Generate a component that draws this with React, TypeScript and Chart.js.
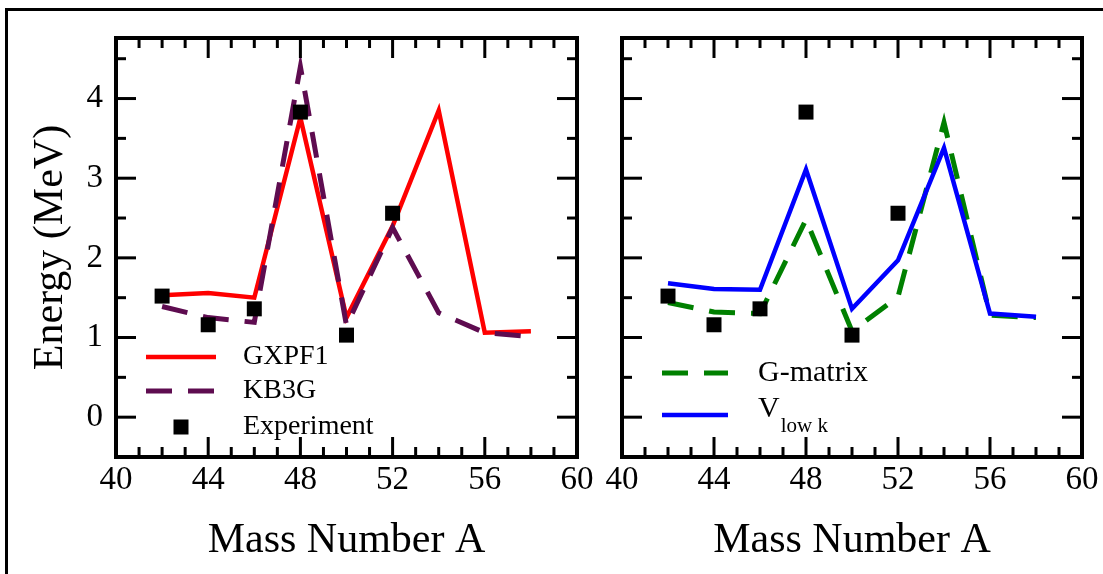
import React, { useEffect, useRef } from 'react';
import { Chart, registerables } from 'chart.js';

Chart.register(...registerables);

// ---------- data ----------
const massNumbers = [42, 44, 46, 48, 50, 52, 54, 56, 58];
const gxpf1 = [1.53, 1.56, 1.5, 3.76, 1.25, 2.4, 3.85, 1.06, 1.08];
const kb3g = [1.39, 1.25, 1.19, 4.4, 1.15, 2.38, 1.31, 1.06, 1.01];
const gMatrix = [1.44, 1.32, 1.3, 2.48, 1.08, 1.51, 3.7, 1.28, 1.25];
const vLowK = [1.68, 1.61, 1.6, 3.11, 1.36, 1.97, 3.38, 1.3, 1.26];
const expMassNumbers = [42, 44, 46, 48, 50, 52];
const experiment = [1.52, 1.16, 1.36, 3.83, 1.03, 2.56];

const xTickLabels = [40, 44, 48, 52, 56, 60];
const xMinorTicks = [41, 42, 43, 45, 46, 47, 49, 50, 51, 53, 54, 55, 57, 58, 59];
const yTickLabels = [0, 1, 2, 3, 4];
const yMinorTicks = [0.5, 1.5, 2.5, 3.5, 4.5];

const SERIF = '"Liberation Serif", "Times New Roman", Times, serif';

const pts = (xs: number[], ys: number[]) => xs.map((x, i) => ({ x, y: ys[i] }));

// ---------- plugins ----------
const axesFramePlugin = {
  id: 'axesFrame',
  afterDatasetsDraw(chart: any) {
    const { ctx, chartArea: a, scales } = chart;
    const xs = scales.x;
    const ys = scales.y;
    ctx.save();
    ctx.strokeStyle = '#000';
    ctx.lineCap = 'butt';
    ctx.lineWidth = 3;
    const seg = (x1: number, y1: number, x2: number, y2: number) => {
      ctx.beginPath();
      ctx.moveTo(x1, y1);
      ctx.lineTo(x2, y2);
      ctx.stroke();
    };
    const major = 20;
    const minor = 10;
    xTickLabels.forEach((v) => {
      const p = xs.getPixelForValue(v);
      seg(p, a.bottom, p, a.bottom - major);
      seg(p, a.top, p, a.top + major);
    });
    xMinorTicks.forEach((v) => {
      const p = xs.getPixelForValue(v);
      seg(p, a.bottom, p, a.bottom - minor);
      seg(p, a.top, p, a.top + minor);
    });
    yTickLabels.forEach((v) => {
      const p = ys.getPixelForValue(v);
      seg(a.left, p, a.left + major, p);
      seg(a.right, p, a.right - major, p);
    });
    yMinorTicks.forEach((v) => {
      const p = ys.getPixelForValue(v);
      seg(a.left, p, a.left + minor, p);
      seg(a.right, p, a.right - minor, p);
    });
    ctx.lineWidth = 4;
    ctx.lineJoin = 'miter';
    ctx.strokeRect(a.left, a.top, a.right - a.left, a.bottom - a.top);
    ctx.restore();
  },
};

const insetLegendPlugin = {
  id: 'insetLegend',
  afterDraw(chart: any, _args: any, opts: any) {
    if (!opts || !opts.items) return;
    const { ctx } = chart;
    const { items, lineX0, lineX1, textX, fontSize } = opts;
    items.forEach((item: any) => {
      const ds = chart.data.datasets[item.dataset];
      const y = item.y;
      ctx.save();
      if (ds.showLine === false) {
        const side = 15;
        ctx.fillStyle = ds.pointBackgroundColor;
        const cx = (lineX0 + lineX1) / 2;
        ctx.fillRect(cx - side / 2, y - side / 2, side, side);
      } else {
        ctx.strokeStyle = ds.borderColor;
        ctx.lineWidth = ds.borderWidth;
        ctx.setLineDash(ds.borderDash || []);
        ctx.beginPath();
        ctx.moveTo(lineX0, y);
        ctx.lineTo(lineX1, y);
        ctx.stroke();
      }
      ctx.setLineDash([]);
      ctx.fillStyle = '#000';
      ctx.textAlign = 'left';
      ctx.textBaseline = 'middle';
      ctx.font = `${fontSize}px ${SERIF}`;
      const ty = y + (item.textDy || 0);
      ctx.fillText(item.text, textX, ty);
      if (item.sub) {
        const w = ctx.measureText(item.text).width;
        ctx.font = `${item.subSize}px ${SERIF}`;
        ctx.textBaseline = 'alphabetic';
        ctx.fillText(item.sub, textX + w + 1, ty + item.subDy);
      }
      ctx.restore();
    });
  },
};

// ---------- shared scale builders ----------
const xScale = () => ({
  type: 'linear' as const,
  min: 40,
  max: 60,
  afterBuildTicks: (s: any) => {
    s.ticks = xTickLabels.map((v) => ({ value: v }));
  },
  afterFit: (s: any) => {
    s.height = 117;
  },
  grid: { display: false, drawTicks: false },
  border: { display: false },
  ticks: {
    color: '#000',
    padding: 4,
    maxRotation: 0,
    autoSkip: false,
    font: { family: SERIF, size: 33 },
  },
  title: {
    display: true,
    text: 'Mass Number A',
    color: '#000',
    font: { family: SERIF, size: 42 },
    padding: { top: 0, bottom: 8 },
  },
});

const lineDs = (label: string, ys: number[], color: string, width: number, dash: number[] | undefined, order: number) => ({
  type: 'line' as const,
  label,
  data: pts(massNumbers, ys),
  borderColor: color,
  backgroundColor: color,
  borderWidth: width,
  borderDash: dash,
  borderJoinStyle: 'miter' as const,
  borderCapStyle: 'butt' as const,
  pointRadius: 0,
  pointHoverRadius: 0,
  tension: 0,
  fill: false,
  order,
});

const expDs = () => ({
  type: 'line' as const,
  label: 'Experiment',
  data: pts(expMassNumbers, experiment),
  showLine: false,
  pointStyle: 'rect' as const,
  pointRadius: 10.6,
  pointHoverRadius: 10.6,
  pointBackgroundColor: '#000',
  pointBorderColor: '#000',
  pointBorderWidth: 0,
  borderColor: '#000',
  backgroundColor: '#000',
  order: 0,
});

const DASH = [26, 16];

function leftConfig(): any {
  return {
    type: 'line',
    data: {
      datasets: [
        expDs(),
        lineDs('GXPF1', gxpf1, '#ff0000', 4.5, undefined, 2),
        lineDs('KB3G', kb3g, '#5e0c50', 5, DASH, 1),
      ],
    },
    options: {
      responsive: false,
      animation: false,
      devicePixelRatio: 1,
      events: [],
      layout: { padding: { top: 38, right: 23, left: 0, bottom: 0 } },
      scales: {
        x: xScale(),
        y: {
          type: 'linear',
          min: -0.5,
          max: 4.76,
          afterBuildTicks: (s: any) => {
            s.ticks = yTickLabels.map((v) => ({ value: v }));
          },
          afterFit: (s: any) => {
            s.width = 116;
          },
          grid: { display: false, drawTicks: false },
          border: { display: false },
          ticks: {
            color: '#000',
            padding: 13,
            font: { family: SERIF, size: 33 },
          },
          title: {
            display: true,
            text: 'Energy (MeV)',
            color: '#000',
            font: { family: SERIF, size: 42 },
            padding: { top: 26, bottom: 0 },
          },
        },
      },
      plugins: {
        legend: { display: false },
        tooltip: { enabled: false },
        insetLegend: {
          lineX0: 146,
          lineX1: 216,
          textX: 243,
          fontSize: 28,
          items: [
            { dataset: 1, text: 'GXPF1', y: 357 },
            { dataset: 2, text: 'KB3G', y: 391 },
            { dataset: 0, text: 'Experiment', y: 427 },
          ],
        },
      },
    },
    plugins: [axesFramePlugin, insetLegendPlugin],
  };
}

function rightConfig(): any {
  return {
    type: 'line',
    data: {
      datasets: [
        expDs(),
        lineDs('G-matrix', gMatrix, '#008000', 5, DASH, 2),
        lineDs('Vlow k', vLowK, '#0000ff', 4.5, undefined, 1),
      ],
    },
    options: {
      responsive: false,
      animation: false,
      devicePixelRatio: 1,
      events: [],
      layout: { padding: { top: 38, right: 21, left: 22, bottom: 0 } },
      scales: {
        x: xScale(),
        y: {
          type: 'linear',
          display: false,
          min: -0.5,
          max: 4.76,
        },
      },
      plugins: {
        legend: { display: false },
        tooltip: { enabled: false },
        insetLegend: {
          lineX0: 62,
          lineX1: 128,
          textX: 158,
          fontSize: 30,
          items: [
            { dataset: 1, text: 'G-matrix', y: 373 },
            { dataset: 2, text: 'V', y: 415, textDy: -6, sub: 'low k', subSize: 21, subDy: 23 },
          ],
        },
      },
    },
    plugins: [axesFramePlugin, insetLegendPlugin],
  };
}

export default function App() {
  const leftRef = useRef<HTMLCanvasElement>(null);
  const rightRef = useRef<HTMLCanvasElement>(null);

  useEffect(() => {
    document.body.style.margin = '0';
    const c1 = new Chart(leftRef.current as HTMLCanvasElement, leftConfig());
    const c2 = new Chart(rightRef.current as HTMLCanvasElement, rightConfig());
    return () => {
      c1.destroy();
      c2.destroy();
    };
  }, []);

  return (
    <div
      style={{
        position: 'absolute',
        left: 0,
        top: 0,
        width: 1103,
        height: 574,
        overflow: 'hidden',
        background: '#fff',
      }}
    >
      <div
        style={{
          position: 'absolute',
          left: 5,
          top: 8,
          width: 1200,
          height: 700,
          borderLeft: '3px solid #000',
          borderTop: '3px solid #000',
        }}
      />
      <canvas
        ref={leftRef}
        width={600}
        height={574}
        style={{ position: 'absolute', left: 0, top: 0, width: 600, height: 574 }}
      />
      <canvas
        ref={rightRef}
        width={503}
        height={574}
        style={{ position: 'absolute', left: 600, top: 0, width: 503, height: 574 }}
      />
    </div>
  );
}
